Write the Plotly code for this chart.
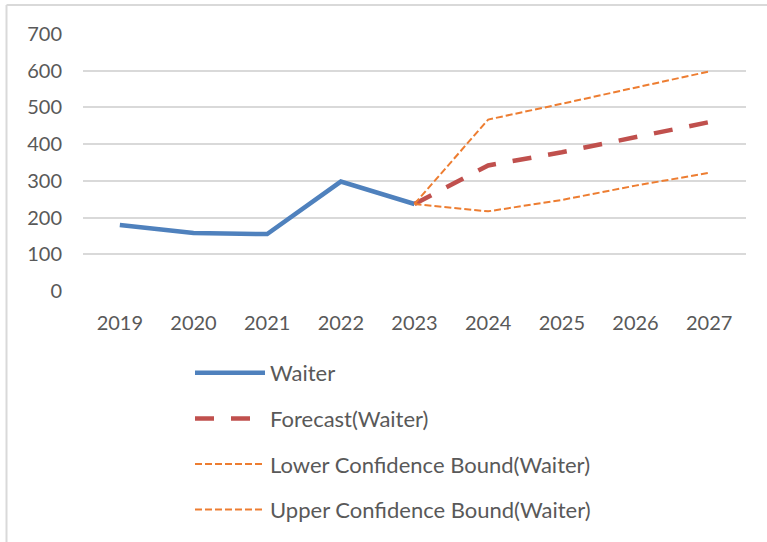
import plotly.graph_objects as go

# Yearly counts and forecast
years = ["2019", "2020", "2021", "2022", "2023", "2024", "2025", "2026", "2027"]
actual_years = ["2019", "2020", "2021", "2022", "2023"]
actual = [180, 158, 155, 298, 237]
forecast_years = ["2023", "2024", "2025", "2026", "2027"]
forecast = [237, 342, 378, 419, 460]
lower_bound = [237, 217, 248, 287, 322]
upper_bound = [237, 467, 510, 553, 598]
y_ticks = [0, 100, 200, 300, 400, 500, 600, 700]

FONT = "Lato, Calibri, sans-serif"
TEXT = "#595959"
GRID = "#D9D9D9"

W, H = 767, 542
ML, MR, MT, MB = 83, 21, 34, 10
PW, PH = W - ML - MR, H - MT - MB


def px_x(x):
    return (x - ML) / PW


def px_y(y):
    return (H - MB - y) / PH


fig = go.Figure()
fig.add_trace(go.Scatter(
    x=actual_years, y=actual, name="Waiter", mode="lines",
    line=dict(color="#4F81BD", width=4.5), legendgroup="a"))
fig.add_trace(go.Scatter(
    x=forecast_years, y=forecast, name="Forecast(Waiter)", mode="lines",
    line=dict(color="#C0504D", width=4.5, dash="19px,17px"), legendgroup="b"))
fig.add_trace(go.Scatter(
    x=forecast_years, y=lower_bound, name="Lower Confidence Bound(Waiter)",
    mode="lines", line=dict(color="#ED7D31", width=2, dash="7px,3px"),
    legendgroup="c"))
fig.add_trace(go.Scatter(
    x=forecast_years, y=upper_bound, name="Upper Confidence Bound(Waiter)",
    mode="lines", line=dict(color="#ED7D31", width=2, dash="7px,3px"),
    legendgroup="d"))

# chart frame (top and left edges)
fig.add_shape(type="line", xref="paper", yref="paper",
              x0=px_x(6.5), x1=px_x(780), y0=px_y(5), y1=px_y(5),
              line=dict(color=GRID, width=2))
fig.add_shape(type="line", xref="paper", yref="paper",
              x0=px_x(6.5), x1=px_x(6.5), y0=px_y(5), y1=px_y(560),
              line=dict(color=GRID, width=2))

fig.update_layout(
    width=W, height=H,
    margin=dict(l=ML, r=MR, t=MT, b=MB),
    paper_bgcolor="white", plot_bgcolor="white",
    font=dict(family=FONT, color=TEXT, size=20),
    showlegend=True,
    legend=dict(
        x=px_x(190), y=px_y(352), xanchor="left", yanchor="top",
        itemwidth=70, tracegroupgap=14, bgcolor="rgba(0,0,0,0)",
        font=dict(family=FONT, color=TEXT, size=22),
    ),
    xaxis=dict(
        type="category", categoryorder="array", categoryarray=years,
        range=[-0.5, 8.5], showgrid=False, zeroline=False, showline=False,
        ticks="", ticklabelstandoff=18, automargin=False,
        tickfont=dict(family=FONT, color=TEXT, size=20),
    ),
    yaxis=dict(
        domain=[px_y(291), 1],
        range=[0, 700], tickvals=y_ticks, showgrid=True, gridcolor=GRID,
        gridwidth=1.5, zeroline=False, showline=False, ticks="",
        ticklabelstandoff=20, automargin=False,
        tickfont=dict(family=FONT, color=TEXT, size=20),
    ),
)

fig.write_html("out.html")
